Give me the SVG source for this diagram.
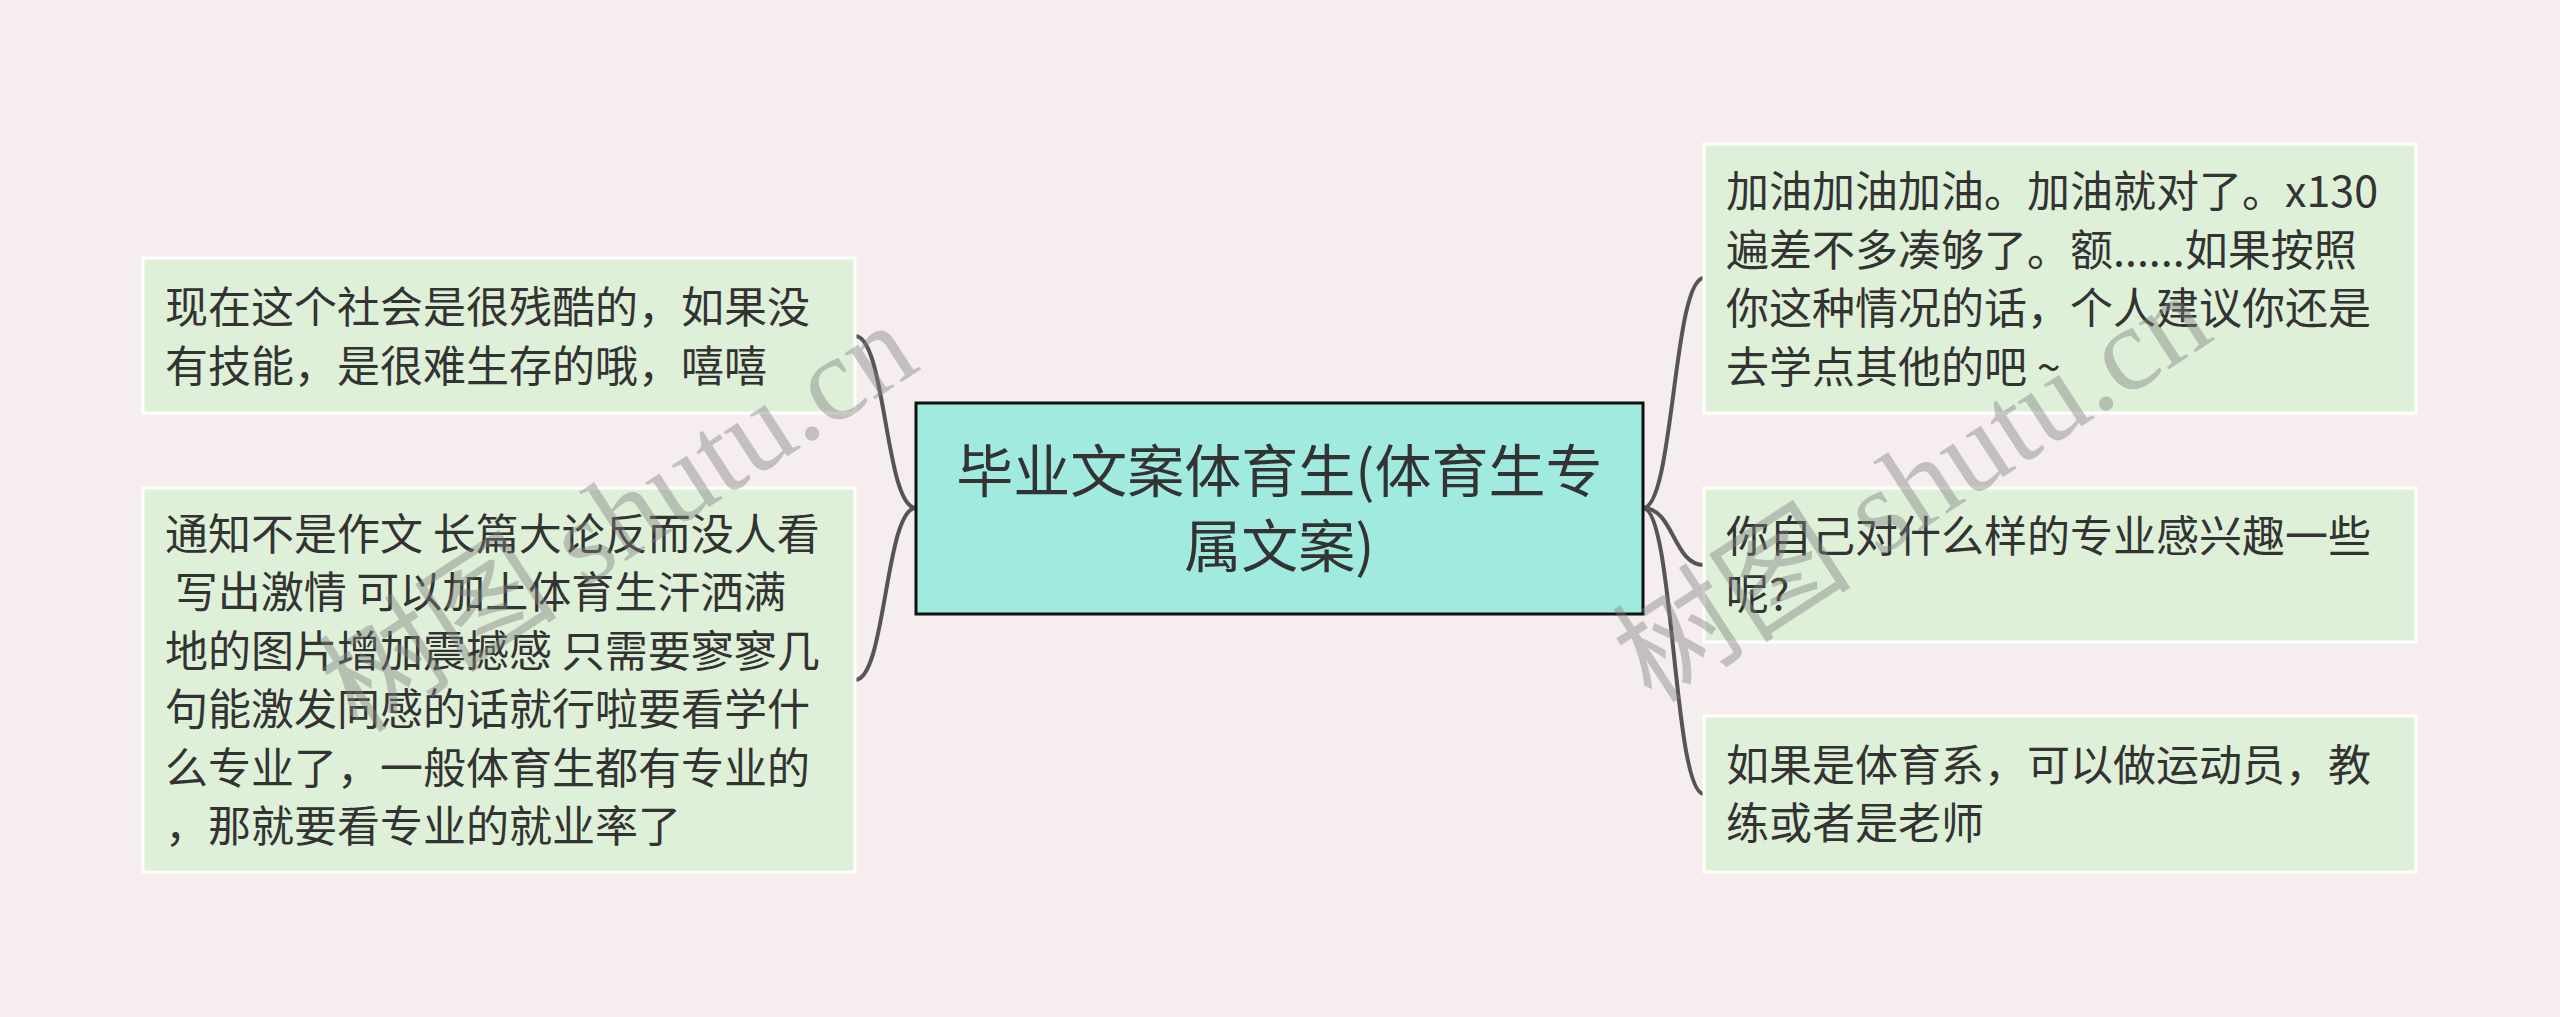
<svg xmlns="http://www.w3.org/2000/svg" width="2560" height="1017" viewBox="0 0 2560 1017">
<style>
.bg{fill:#f5edee}
.sub{fill:#dff0d8;stroke:#ffffff;stroke-width:3}
.root{fill:#a0eae0;stroke:#111111;stroke-width:3}
.t{font-family:"Noto Sans CJK SC","Noto Sans",sans-serif;font-size:43px;fill:#333333}
.rt{font-family:"Noto Sans CJK SC","Noto Sans",sans-serif;font-size:57px;fill:#333333;text-anchor:middle}
.c{fill:none;stroke:#555555;stroke-width:4}
.wm{font-family:"Liberation Serif","Noto Sans CJK SC",serif;font-size:120px;fill:#808080;opacity:0.42}
</style>
<rect class="bg" x="0" y="0" width="2560" height="1017"/>
<g id="connectors">
<path class="c" d="M916 508 C885 508 886 336 855 336"/>
<path class="c" d="M916 508 C885 508 886 680 855 680"/>
<path class="c" d="M1643 508 C1674 508 1673 278 1704 278"/>
<path class="c" d="M1643 508 C1674 508 1673 565 1704 565"/>
<path class="c" d="M1643 508 C1674 508 1673 794 1704 794"/>
</g>
<g id="root">
<rect class="root" x="916" y="403" width="727" height="211"/>
<text class="rt" x="1279.5" y="492">毕业文案体育生(体育生专</text>
<text class="rt" x="1279.5" y="567">属文案)</text>
</g>
<g id="left1">
<rect class="sub" x="143" y="258" width="712" height="155"/>
<text class="t" x="165" y="323">现在这个社会是很残酷的，如果没</text>
<text class="t" x="165" y="381.5">有技能，是很难生存的哦，嘻嘻</text>
</g>
<g id="left2">
<rect class="sub" x="143" y="488" width="712" height="384"/>
<text class="t" x="165" y="549.5">通知不是作文 长篇大论反而没人看</text>
<text class="t" x="165" y="608" xml:space="preserve"> 写出激情 可以加上体育生汗洒满</text>
<text class="t" x="165" y="666.5">地的图片增加震撼感 只需要寥寥几</text>
<text class="t" x="165" y="725">句能激发同感的话就行啦要看学什</text>
<text class="t" x="165" y="783.5">么专业了，一般体育生都有专业的</text>
<text class="t" x="165" y="842">，那就要看专业的就业率了</text>
</g>
<g id="right1">
<rect class="sub" x="1704" y="144" width="712" height="269"/>
<text class="t" x="1726" y="207">加油加油加油。加油就对了。x130</text>
<text class="t" x="1726" y="265.5">遍差不多凑够了。额......如果按照</text>
<text class="t" x="1726" y="324">你这种情况的话，个人建议你还是</text>
<text class="t" x="1726" y="382.5">去学点其他的吧 ~</text>
</g>
<g id="right2">
<rect class="sub" x="1704" y="488" width="712" height="154"/>
<text class="t" x="1726" y="551.5">你自己对什么样的专业感兴趣一些</text>
<text class="t" x="1726" y="610">呢?</text>
</g>
<g id="right3">
<rect class="sub" x="1704" y="716" width="712" height="156"/>
<text class="t" x="1726" y="780.5">如果是体育系，可以做运动员，教</text>
<text class="t" x="1726" y="839">练或者是老师</text>
</g>
<g id="watermarks">
<text class="wm" transform="translate(358,735) rotate(-33)">树图 shutu.cn</text>
<text class="wm" transform="translate(1652,705) rotate(-33)">树图 shutu.cn</text>
</g>
</svg>
